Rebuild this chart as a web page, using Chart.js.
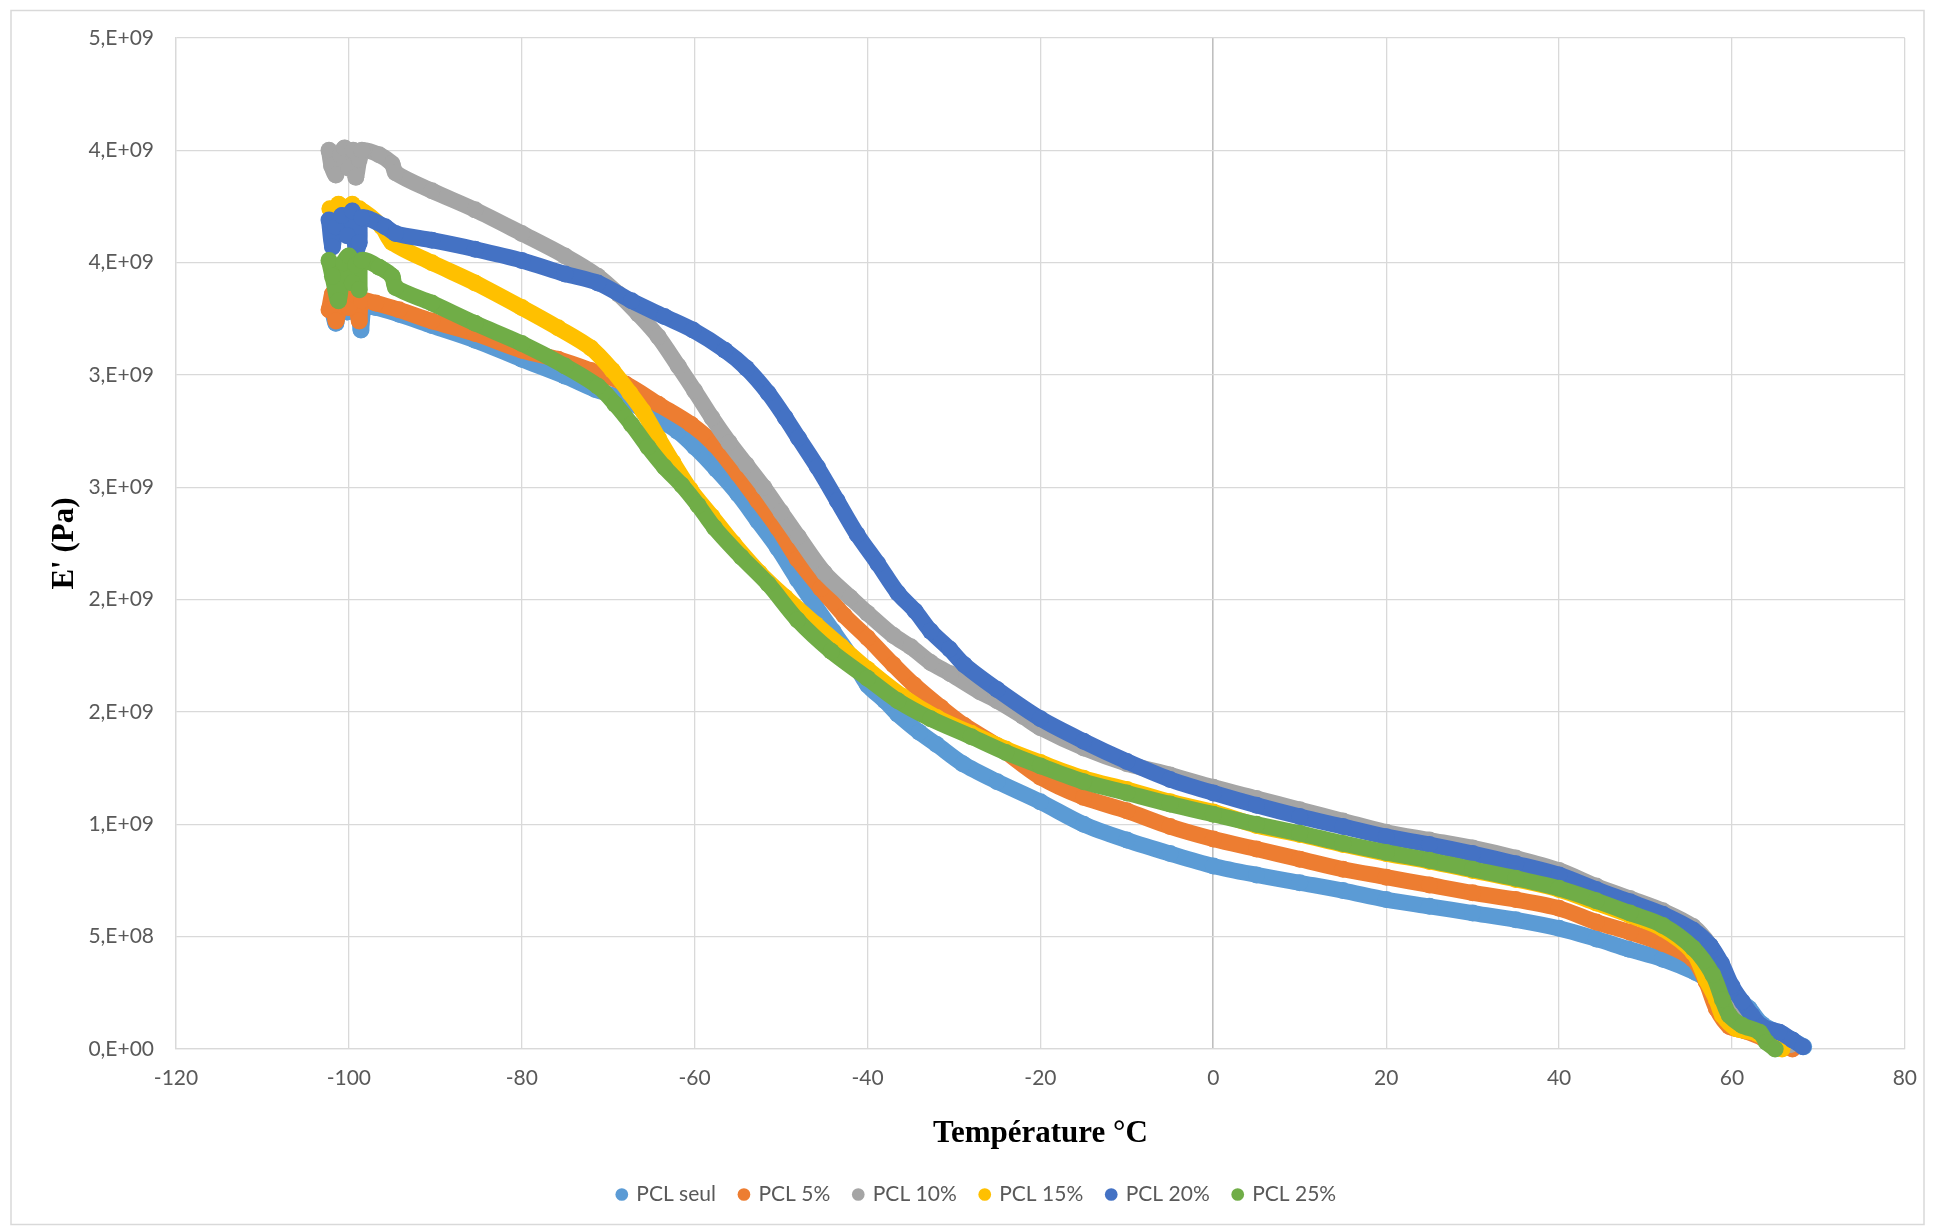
<!DOCTYPE html>
<html>
<head>
<meta charset="utf-8">
<title>Module E' en fonction de la température</title>
<script src="https://cdn.jsdelivr.net/npm/chart.js@4.4.1/dist/chart.umd.min.js"></script>
<style>
  html, body { margin: 0; padding: 0; background: #ffffff; }
  #cadre { width: 1934px; height: 1227px; }
</style>
</head>
<body>
<div id="cadre"><canvas id="grafico" width="1934" height="1227"></canvas></div>
<script>
// Données : température (°C) et module E' (en 1e9 Pa)
const noms = ["PCL seul", "PCL 5%", "PCL 10%", "PCL 15%", "PCL 20%", "PCL 25%"];

const tSeul = [-102.0, -101.5, -101.0, -100.2, -99.6, -98.9, -98.6, -98.2, -96.9, -94.2, -90.4, -85.4, -80.0, -75.0, -71.5, -68.0, -64.5, -62.0, -60.0, -57.5, -55.0, -52.7, -50.4, -48.1, -46.0, -44.0, -42.0, -40.0, -38.0, -36.5, -34.0, -32.0, -29.0, -25.0, -20.0, -15.0, -10.0, -5.0, 0.0, 5.0, 10.0, 15.0, 20.0, 25.0, 30.0, 35.0, 40.0, 44.3, 48.0, 52.0, 55.8, 57.5, 59.0, 60.5, 62.0, 63.5, 65.5, 67.0, 68.3];
const eSeul = [3.30, 3.23, 3.34, 3.28, 3.33, 3.27, 3.20, 3.30, 3.30, 3.27, 3.22, 3.155, 3.07, 2.995, 2.935, 2.89, 2.81, 2.75, 2.68, 2.58, 2.47, 2.35, 2.23, 2.09, 1.97, 1.86, 1.75, 1.62, 1.55, 1.49, 1.41, 1.355, 1.27, 1.19, 1.10, 1.00, 0.93, 0.87, 0.815, 0.775, 0.74, 0.705, 0.665, 0.635, 0.605, 0.575, 0.537, 0.49, 0.445, 0.40, 0.34, 0.30, 0.27, 0.23, 0.18, 0.11, 0.07, 0.04, 0.01];

const tCinq = [-102.3, -101.9, -101.5, -100.8, -100.0, -99.4, -98.8, -98.5, -96.9, -94.2, -90.4, -85.4, -80.0, -75.8, -72.0, -68.0, -64.2, -60.4, -57.7, -55.0, -52.7, -50.4, -48.1, -45.4, -42.7, -40.0, -37.0, -34.6, -31.5, -28.8, -25.0, -20.0, -15.0, -10.0, -5.0, 0.0, 5.0, 10.0, 15.0, 20.0, 25.0, 30.0, 35.0, 40.0, 44.3, 48.2, 52.0, 55.5, 57.0, 58.2, 59.7, 61.5, 63.5, 65.5, 67.0];
const eCinq = [3.29, 3.36, 3.24, 3.33, 3.30, 3.36, 3.24, 3.33, 3.32, 3.29, 3.24, 3.185, 3.11, 3.07, 3.02, 2.96, 2.87, 2.78, 2.69, 2.56, 2.44, 2.32, 2.18, 2.05, 1.93, 1.83, 1.71, 1.62, 1.52, 1.44, 1.35, 1.21, 1.12, 1.06, 0.99, 0.935, 0.89, 0.845, 0.80, 0.765, 0.73, 0.695, 0.665, 0.626, 0.565, 0.52, 0.47, 0.40, 0.30, 0.18, 0.10, 0.08, 0.05, 0.02, 0.0];

const tDix = [-102.3, -102.0, -101.5, -101.0, -100.5, -100.0, -99.5, -99.2, -98.8, -98.5, -96.5, -95.0, -94.6, -90.4, -85.4, -80.0, -75.0, -71.2, -68.8, -66.5, -64.2, -61.9, -60.0, -58.0, -56.0, -54.0, -52.0, -50.0, -48.0, -45.0, -42.0, -40.0, -37.0, -35.0, -32.7, -30.4, -27.0, -25.0, -22.0, -20.0, -15.0, -10.0, -5.0, 0.0, 5.0, 10.0, 15.0, 20.0, 25.0, 30.0, 35.0, 40.0, 44.3, 48.2, 52.0, 55.5, 57.5, 58.8, 60.0, 61.2, 62.5, 64.0, 65.5, 66.8];
const eDix = [4.00, 3.93, 3.89, 3.98, 4.01, 3.92, 4.00, 3.88, 3.96, 4.00, 3.98, 3.94, 3.90, 3.82, 3.735, 3.63, 3.53, 3.44, 3.36, 3.27, 3.17, 3.04, 2.93, 2.81, 2.70, 2.60, 2.50, 2.39, 2.28, 2.12, 2.01, 1.94, 1.84, 1.79, 1.72, 1.67, 1.59, 1.55, 1.48, 1.43, 1.34, 1.27, 1.22, 1.165, 1.115, 1.065, 1.015, 0.965, 0.93, 0.895, 0.85, 0.795, 0.725, 0.67, 0.615, 0.545, 0.46, 0.37, 0.27, 0.19, 0.12, 0.08, 0.05, 0.02];

const tQuinze = [-102.2, -101.8, -101.2, -100.5, -99.6, -99.2, -98.8, -96.2, -95.0, -90.4, -85.4, -80.0, -75.8, -72.0, -69.5, -67.5, -66.0, -64.2, -62.5, -60.5, -58.0, -55.5, -52.5, -49.5, -46.0, -43.0, -40.0, -36.0, -32.0, -28.0, -24.0, -20.0, -15.0, -10.0, -5.0, 0.0, 5.0, 10.0, 15.0, 20.0, 25.0, 30.0, 35.0, 40.0, 44.3, 48.2, 52.0, 55.5, 57.0, 58.2, 58.9, 60.5, 62.8, 64.5, 65.8];
const eQuinze = [3.74, 3.71, 3.76, 3.73, 3.76, 3.72, 3.74, 3.66, 3.59, 3.50, 3.41, 3.30, 3.21, 3.12, 3.02, 2.92, 2.84, 2.72, 2.61, 2.49, 2.37, 2.25, 2.12, 2.01, 1.89, 1.79, 1.69, 1.57, 1.475, 1.405, 1.335, 1.275, 1.205, 1.155, 1.10, 1.055, 0.995, 0.955, 0.91, 0.87, 0.835, 0.795, 0.755, 0.71, 0.65, 0.595, 0.535, 0.43, 0.31, 0.22, 0.15, 0.09, 0.07, 0.03, 0.0];

const tVingt = [-102.3, -101.9, -101.5, -100.8, -100.2, -99.6, -99.2, -98.8, -98.5, -95.8, -94.6, -90.4, -85.4, -80.0, -75.0, -71.2, -67.3, -63.5, -60.2, -56.5, -54.0, -51.5, -49.5, -48.0, -45.8, -43.5, -41.2, -38.8, -36.5, -34.5, -32.7, -30.5, -28.8, -25.0, -20.0, -15.0, -10.0, -5.0, 0.0, 5.0, 10.0, 15.0, 20.0, 25.0, 30.0, 35.0, 40.0, 44.3, 48.2, 52.0, 55.5, 57.5, 58.8, 60.0, 61.2, 62.3, 63.5, 65.5, 67.0, 68.2];
const eVingt = [3.69, 3.57, 3.66, 3.71, 3.62, 3.73, 3.55, 3.59, 3.70, 3.66, 3.63, 3.60, 3.56, 3.51, 3.45, 3.41, 3.33, 3.26, 3.20, 3.11, 3.03, 2.92, 2.81, 2.72, 2.59, 2.44, 2.29, 2.16, 2.03, 1.95, 1.86, 1.78, 1.71, 1.60, 1.47, 1.37, 1.28, 1.20, 1.14, 1.085, 1.035, 0.99, 0.945, 0.91, 0.87, 0.825, 0.775, 0.71, 0.655, 0.60, 0.53, 0.46, 0.38, 0.28, 0.21, 0.15, 0.10, 0.075, 0.04, 0.01];

const tVingtCinq = [-102.3, -101.9, -101.2, -100.6, -100.0, -99.6, -99.2, -98.8, -98.5, -96.5, -95.0, -94.6, -90.4, -85.4, -80.0, -75.0, -71.2, -69.2, -67.3, -65.4, -63.5, -61.5, -59.6, -57.7, -54.6, -51.5, -48.1, -44.2, -40.0, -36.5, -32.7, -28.0, -24.0, -20.0, -15.0, -10.0, -5.0, 0.0, 5.0, 10.0, 15.0, 20.0, 25.0, 30.0, 35.0, 40.0, 44.3, 48.2, 52.0, 55.5, 57.8, 58.9, 59.7, 61.2, 63.2, 64.0, 65.0];
const eVingtCinq = [3.51, 3.44, 3.33, 3.50, 3.53, 3.41, 3.49, 3.38, 3.51, 3.48, 3.44, 3.39, 3.32, 3.23, 3.14, 3.04, 2.95, 2.87, 2.78, 2.68, 2.59, 2.51, 2.42, 2.32, 2.19, 2.07, 1.91, 1.77, 1.65, 1.55, 1.47, 1.39, 1.32, 1.26, 1.19, 1.14, 1.09, 1.045, 1.00, 0.96, 0.915, 0.875, 0.84, 0.80, 0.76, 0.715, 0.66, 0.605, 0.55, 0.45, 0.33, 0.22, 0.15, 0.105, 0.075, 0.03, 0.0];

// Axes
const tempMin = -120, tempMax = 80, tempPas = 20;
const eMax = 4.5e9, ePas = 5e8;

const temperatures = [tSeul, tCinq, tDix, tQuinze, tVingt, tVingtCinq];
const modules = [eSeul, eCinq, eDix, eQuinze, eVingt, eVingtCinq];

// Couleurs Office
const couleurs = ["#5B9BD5", "#ED7D31", "#A5A5A5", "#FFC000", "#4472C4", "#70AD47"];

// Format Excel "0,E+00"
function formatExcel(v) {
    if (v === 0) return "0,E+00";
    let exp = Math.floor(Math.log10(v) + 1e-9);
    let mant = Math.round(v / Math.pow(10, exp));
    if (mant >= 10) { mant = 1; exp += 1; }
    return mant + ",E+" + String(exp).padStart(2, "0");
}

// Cadre gris autour du graphique
const cadrePlugin = {
    id: "cadre",
    beforeDraw(chart) {
        const ctx = chart.ctx;
        ctx.save();
        ctx.fillStyle = "#ffffff";
        ctx.fillRect(0, 0, chart.width, chart.height);
        ctx.strokeStyle = "#d9d9d9";
        ctx.lineWidth = 1.5;
        ctx.strokeRect(11, 10.5, 1913, 1214);
        ctx.restore();
    }
};

Chart.defaults.font.family = "Lato, 'Open Sans', sans-serif";
Chart.defaults.color = "#595959";

const ctx = document.getElementById("grafico").getContext("2d");

new Chart(ctx, {
    type: "scatter",
    data: {
        datasets: noms.map((nom, i) => ({
            label: nom,
            data: temperatures[i].map((t, j) => ({ x: t, y: modules[i][j] * 1e9 })),
            showLine: true,
            borderColor: couleurs[i],
            backgroundColor: couleurs[i],
            borderWidth: 16,
            borderCapStyle: "round",
            borderJoinStyle: "round",
            pointRadius: 8.5,
            pointHoverRadius: 8.5,
            pointBorderWidth: 0,
            pointStyle: "circle",
            tension: 0.3,
            clip: 10,
            order: noms.length - 1 - i
        }))
    },
    options: {
        responsive: false,
        animation: false,
        layout: {
            padding: { left: 45, right: 25, top: 38, bottom: 12 }
        },
        plugins: {
            tooltip: { enabled: false },
            legend: {
                position: "bottom",
                labels: {
                    usePointStyle: true,
                    boxWidth: 8,
                    boxHeight: 9,
                    padding: 24,
                    color: "#595959",
                    font: { size: 21 },
                    sort: (a, b) => a.datasetIndex - b.datasetIndex
                }
            }
        },
        scales: {
            x: {
                type: "linear",
                min: tempMin,
                max: tempMax,
                ticks: {
                    stepSize: tempPas,
                    padding: 17,
                    color: "#595959",
                    font: { size: 21 }
                },
                grid: {
                    drawTicks: false,
                    color: (c) => (c.tick && c.tick.value === 0 ? "#bfbfbf" : "#d9d9d9"),
                    lineWidth: (c) => (c.tick && c.tick.value === 0 ? 1.6 : 1.3)
                },
                border: { color: "#d9d9d9", width: 1.3 },
                title: {
                    display: true,
                    text: "Température °C",
                    color: "#000000",
                    font: { family: "'Liberation Serif', 'Times New Roman', serif", size: 31, weight: "bold" },
                    padding: { top: 0, bottom: 7 }
                },
                afterFit: (scale) => { scale.height = 111; }
            },
            y: {
                type: "linear",
                min: 0,
                max: eMax,
                ticks: {
                    stepSize: ePas,
                    padding: 22,
                    color: "#595959",
                    font: { size: 21 },
                    callback: (v) => formatExcel(v)
                },
                grid: {
                    drawTicks: false,
                    color: "#d9d9d9",
                    lineWidth: 1.3
                },
                border: { color: "#d9d9d9", width: 1.3 },
                title: {
                    display: true,
                    text: "E' (Pa)",
                    color: "#000000",
                    font: { family: "'Liberation Serif', 'Times New Roman', serif", size: 31, weight: "bold" },
                    padding: { top: 1, bottom: 0 }
                },
                afterFit: (scale) => { scale.width = 131; }
            }
        }
    },
    plugins: [cadrePlugin]
});
</script>
</body>
</html>
